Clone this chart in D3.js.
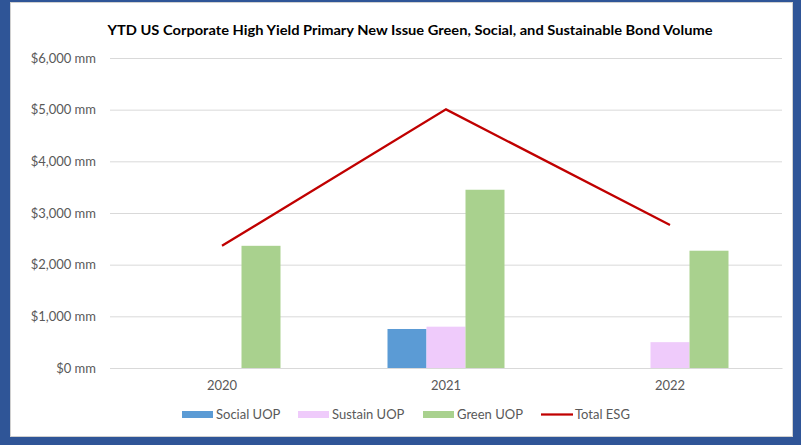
<!DOCTYPE html>
<html>
<head>
<meta charset="utf-8">
<script src="https://cdn.jsdelivr.net/npm/d3@7"></script>
<style>
  html, body { margin: 0; padding: 0; background: #2F5597; }
  svg { display: block; }
  text { font-family: Lato, "Open Sans", sans-serif; }
</style>
</head>
<body>
<svg id="chart" width="801" height="445"></svg>
<script>
// Chart data
const years = ["2020", "2021", "2022"];
const socialUOP = [0, 755, 0];
const sustainUOP = [0, 800, 500];
const greenUOP = [2365, 3450, 2270];
const totalESG = [2365, 5005, 2770];
const yTicks = [0, 1000, 2000, 3000, 4000, 5000, 6000];
const seriesNames = ["Social UOP", "Sustain UOP", "Green UOP"];
const titleText = "YTD US Corporate High Yield Primary New Issue Green, Social, and Sustainable Bond Volume";

const colors = { "Social UOP": "#5B9BD5", "Sustain UOP": "#EFCBFB", "Green UOP": "#A9D18E", "Total ESG": "#C00000" };

const svg = d3.select("#chart");

// Background frame
svg.append("rect").attr("x", 0).attr("y", 0).attr("width", 801).attr("height", 445).attr("fill", "#2F5597");
svg.append("rect").attr("x", 10.5).attr("y", 2.5).attr("width", 782).attr("height", 434)
  .attr("fill", "#ffffff").attr("stroke", "#D0D0D0").attr("stroke-width", 1);

const plot = { left: 110, right: 782, top: 58, bottom: 368 };

const x = d3.scaleBand().domain(years).range([plot.left, plot.right]);
const y = d3.scaleLinear().domain([0, 6000]).range([plot.bottom, plot.top]);
const inner = d3.scaleBand().domain(seriesNames).range([0, 117]);
const groupOffset = (x.bandwidth() - 117) / 2;

// Title
svg.append("text")
  .attr("x", 410).attr("y", 35)
  .attr("text-anchor", "middle")
  .attr("font-size", 13.5).attr("font-weight", "bold").attr("fill", "#000")
  .attr("textLength", 605).attr("lengthAdjust", "spacingAndGlyphs")
  .text(titleText);

// Gridlines and y labels
const yAxis = d3.axisLeft(y).tickValues(yTicks)
  .tickSize(-(plot.right - plot.left))
  .tickPadding(14)
  .tickFormat(d => "$" + d3.format(",")(d) + " mm");
const gy = svg.append("g").attr("transform", `translate(${plot.left},0)`).call(yAxis);
gy.select(".domain").remove();
gy.selectAll(".tick line").attr("stroke", "#D9D9D9").attr("stroke-width", 1);
gy.selectAll(".tick text").attr("fill", "#595959").attr("font-size", 13)
  .attr("font-family", "Lato, 'Open Sans', sans-serif");

// Bars
const series = [
  { name: "Social UOP", values: socialUOP },
  { name: "Sustain UOP", values: sustainUOP },
  { name: "Green UOP", values: greenUOP }
];
series.forEach(s => {
  svg.append("g").selectAll("rect")
    .data(s.values.map((v, i) => ({ year: years[i], v })))
    .join("rect")
    .attr("x", d => x(d.year) + groupOffset + inner(s.name))
    .attr("y", d => y(d.v))
    .attr("width", inner.bandwidth())
    .attr("height", d => y(0) - y(d.v))
    .attr("fill", colors[s.name]);
});

// X axis labels
const xAxis = d3.axisBottom(x).tickSize(0).tickPadding(13);
const gx = svg.append("g").attr("transform", `translate(0,${plot.bottom})`).call(xAxis);
gx.select(".domain").attr("stroke", "#D9D9D9");
gx.selectAll(".tick text").attr("fill", "#595959").attr("font-size", 13)
  .attr("font-family", "Lato, 'Open Sans', sans-serif");

// Total line
const line = d3.line().x((d, i) => x(years[i]) + x.bandwidth() / 2).y(d => y(d));
svg.append("path").datum(totalESG)
  .attr("d", line).attr("fill", "none")
  .attr("stroke", colors["Total ESG"]).attr("stroke-width", 2.25);

// Legend
const legendItems = [
  { name: "Social UOP", x: 182, type: "rect" },
  { name: "Sustain UOP", x: 298, type: "rect" },
  { name: "Green UOP", x: 423, type: "rect" },
  { name: "Total ESG", x: 541, type: "line" }
];
const ly = 414.5;
const lg = svg.append("g");
legendItems.forEach(it => {
  if (it.type === "rect") {
    lg.append("rect").attr("x", it.x).attr("y", ly - 3.5).attr("width", 31).attr("height", 7)
      .attr("fill", colors[it.name]);
  } else {
    lg.append("line").attr("x1", it.x).attr("x2", it.x + 32).attr("y1", ly).attr("y2", ly)
      .attr("stroke", colors[it.name]).attr("stroke-width", 2.25);
  }
  lg.append("text").attr("x", it.x + 34).attr("y", ly).attr("dy", "0.35em")
    .attr("font-size", 13).attr("fill", "#595959").text(it.name);
});
</script>
</body>
</html>
